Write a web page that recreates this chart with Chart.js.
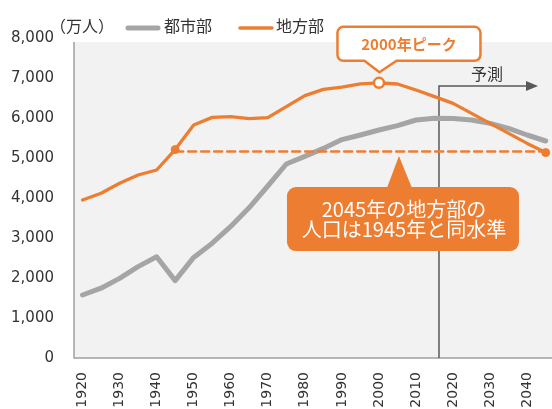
<!DOCTYPE html>
<html>
<head>
<meta charset="utf-8">
<script src="https://cdn.jsdelivr.net/npm/chart.js@4.4.0/dist/chart.umd.min.js"></script>
<style>
  html, body { margin: 0; padding: 0; background: #fff; }
</style>
</head>
<body>
<canvas id="popchart" width="552" height="409"></canvas>
<script>
// population (10k people), every 5 years
var years = [1920, 1925, 1930, 1935, 1940, 1945, 1950, 1955, 1960, 1965, 1970, 1975, 1980,
             1985, 1990, 1995, 2000, 2005, 2010, 2015, 2020, 2025, 2030, 2035, 2040, 2045];
var urban = [1575, 1745, 1990, 2285, 2530, 1935, 2515, 2870, 3290, 3760, 4300, 4850, 5040,
             5240, 5460, 5575, 5700, 5810, 5950, 5995, 5990, 5950, 5865, 5740, 5575, 5425];
var rural = [3950, 4120, 4370, 4575, 4700, 5210, 5825, 6015, 6035, 5985, 6010, 6285, 6560,
             6715, 6770, 6855, 6880, 6850, 6700, 6535, 6365, 6115, 5865, 5615, 5365, 5135];
var tickYears = [1920, 1930, 1940, 1950, 1960, 1970, 1980, 1990, 2000, 2010, 2020, 2030, 2040];
var yTicks = [0, 1000, 2000, 3000, 4000, 5000, 6000, 7000, 8000];
var seriesNames = ['都市部', '地方部'];

var level1945 = 5160;     // dashed reference level
var peakYear = 2000;
var forecastFrom = 2016.2;

var orange = '#ed7d31';
var grey = '#a5a5a5';
var textColor = '#333333';
var cjk = '"Noto Sans CJK JP", "Noto Sans", sans-serif';

function toPoints(vals) {
  return years.map(function (yr, i) { return { x: yr, y: vals[i] }; });
}

function roundedBox(ctx, l, t, r, b, rad, notch) {
  ctx.beginPath();
  ctx.moveTo(l + rad, t);
  ctx.arcTo(r, t, r, b, rad);
  ctx.arcTo(r, b, l, b, rad);
  if (notch) {
    ctx.lineTo(notch[1], b);
    ctx.lineTo(notch[2], notch[3]);
    ctx.lineTo(notch[0], b);
  }
  ctx.arcTo(l, b, l, t, rad);
  ctx.arcTo(l, t, r, t, rad);
  ctx.closePath();
}

var decor = {
  id: 'decor',
  beforeDraw: function (chart) {
    var ctx = chart.ctx, a = chart.chartArea;
    var ys = chart.scales.y;
    var top = ys.getPixelForValue(7900);
    ctx.save();
    ctx.fillStyle = '#f2f2f2';
    ctx.fillRect(a.left, top, a.right - a.left, a.bottom - top);
    ctx.strokeStyle = '#a0a0a0';
    ctx.lineWidth = 1.5;
    ctx.beginPath();
    ctx.moveTo(a.left, top);
    ctx.lineTo(a.left, a.bottom);
    ctx.lineTo(a.right, a.bottom);
    ctx.stroke();
    ctx.restore();
  },
  beforeDatasetsDraw: function (chart) {
    var ctx = chart.ctx, a = chart.chartArea;
    var fx = chart.scales.x.getPixelForValue(forecastFrom);
    var ay = 86;
    ctx.save();
    ctx.strokeStyle = '#595959';
    ctx.fillStyle = '#595959';
    ctx.lineWidth = 1.5;
    ctx.beginPath();
    ctx.moveTo(fx, a.bottom);
    ctx.lineTo(fx, ay);
    ctx.lineTo(528, ay);
    ctx.stroke();
    ctx.beginPath();
    ctx.moveTo(538, ay);
    ctx.lineTo(526, ay - 5);
    ctx.lineTo(526, ay + 5);
    ctx.closePath();
    ctx.fill();
    ctx.font = '16px ' + cjk;
    ctx.textAlign = 'center';
    ctx.textBaseline = 'middle';
    ctx.fillStyle = textColor;
    ctx.fillText('予測', 487, 74);
    ctx.restore();
  },
  afterDatasetsDraw: function (chart) {
    var ctx = chart.ctx;
    var xs = chart.scales.x, ys = chart.scales.y;
    ctx.save();

    // peak callout
    var px = xs.getPixelForValue(peakYear);
    var py = ys.getPixelForValue(rural[years.indexOf(peakYear)]);
    roundedBox(ctx, px - 41.5, py - 56, px + 101.5, py - 22, 6,
               [px - 14.5, px + 17.5, px + 0.5, py - 10.5]);
    ctx.fillStyle = '#fff';
    ctx.fill();
    ctx.strokeStyle = orange;
    ctx.lineWidth = 2.5;
    ctx.lineJoin = 'round';
    ctx.stroke();
    ctx.fillStyle = orange;
    ctx.font = 'bold 15px ' + cjk;
    ctx.textAlign = 'center';
    ctx.textBaseline = 'middle';
    ctx.fillText('2000年ピーク', px + 30, py - 38.5);

    // 2045 vs 1945 callout
    var ax = xs.getPixelForValue(2005.4);
    var ay = ys.getPixelForValue(level1945) + 4.5;
    ctx.fillStyle = orange;
    roundedBox(ctx, ax - 112, ay + 31, ax + 120, ay + 95, 9, null);
    ctx.fill();
    ctx.beginPath();
    ctx.moveTo(ax, ay);
    ctx.lineTo(ax + 13, ay + 32);
    ctx.lineTo(ax - 12, ay + 32);
    ctx.closePath();
    ctx.fill();
    ctx.fillStyle = '#fff';
    ctx.font = '20px ' + cjk;
    ctx.fillText('2045年の地方部の', ax + 5, ay + 53);
    ctx.fillText('人口は1945年と同水準', ax + 5, ay + 73);

    // legend + unit
    ctx.font = '16px ' + cjk;
    ctx.textAlign = 'left';
    ctx.fillStyle = textColor;
    ctx.fillText('（万人）', 50, 26);
    ctx.lineCap = 'round';
    ctx.strokeStyle = grey;
    ctx.lineWidth = 5;
    ctx.beginPath();
    ctx.moveTo(128, 28);
    ctx.lineTo(158, 28);
    ctx.stroke();
    ctx.fillText(seriesNames[0], 164, 26);
    ctx.strokeStyle = orange;
    ctx.lineWidth = 3.5;
    ctx.beginPath();
    ctx.moveTo(240, 28);
    ctx.lineTo(272, 28);
    ctx.stroke();
    ctx.fillText(seriesNames[1], 276, 26);
    ctx.restore();
  }
};

var ctx = document.getElementById('popchart');

var myChart = new Chart(ctx, {
  type: 'line',
  data: {
    datasets: [{
      label: seriesNames[0],
      data: toPoints(urban),
      borderColor: grey,
      borderWidth: 5,
      pointRadius: 0,
      order: 2
    }, {
      label: '1945',
      data: [{ x: 1945, y: level1945 }, { x: 2045, y: level1945 }],
      borderColor: orange,
      borderWidth: 2.5,
      borderDash: [8, 5],
      pointRadius: 0,
      order: 1
    }, {
      label: seriesNames[1],
      data: toPoints(rural),
      borderColor: orange,
      borderWidth: 3.3,
      order: 0,
      pointRadius: function (c) {
        var yr = years[c.dataIndex];
        if (yr === peakYear) return 5;
        return (yr === 1945 || yr === 2045) ? 4 : 0;
      },
      pointBackgroundColor: function (c) {
        return years[c.dataIndex] === peakYear ? '#fff' : orange;
      },
      pointBorderColor: orange,
      pointBorderWidth: function (c) {
        return years[c.dataIndex] === peakYear ? 2.5 : 1;
      }
    }]
  },
  options: {
    responsive: false,
    animation: false,
    events: [],
    layout: {
      autoPadding: false,
      padding: { left: 0, right: 0, top: 38, bottom: 0 }
    },
    elements: {
      line: { tension: 0, borderJoinStyle: 'round', borderCapStyle: 'round', fill: false }
    },
    plugins: {
      legend: { display: false },
      tooltip: { enabled: false }
    },
    scales: {
      x: {
        type: 'linear',
        min: 1917.7,
        max: 2046.7,
        afterFit: function (s) {
          s.height = 51;
          s.paddingLeft = 0;
          s.paddingRight = 0;
        },
        afterBuildTicks: function (s) {
          s.ticks = tickYears.map(function (v) { return { value: v }; });
        },
        grid: { display: false, drawTicks: false },
        border: { display: false },
        ticks: {
          autoSkip: false,
          maxRotation: 90,
          minRotation: 90,
          padding: 14,
          color: textColor,
          font: { family: 'DejaVu Sans', size: 14 },
          callback: function (v) { return String(v); }
        }
      },
      y: {
        min: 0,
        max: 8000,
        afterFit: function (s) { s.width = 74; },
        afterBuildTicks: function (s) {
          s.ticks = yTicks.map(function (v) { return { value: v }; });
        },
        grid: { display: false, drawTicks: false },
        border: { display: false },
        ticks: {
          padding: 20,
          color: textColor,
          font: { family: 'DejaVu Sans', size: 15 },
          callback: function (v) { return v.toLocaleString('en-US'); }
        }
      }
    }
  },
  plugins: [decor]
});
</script>
</body>
</html>
